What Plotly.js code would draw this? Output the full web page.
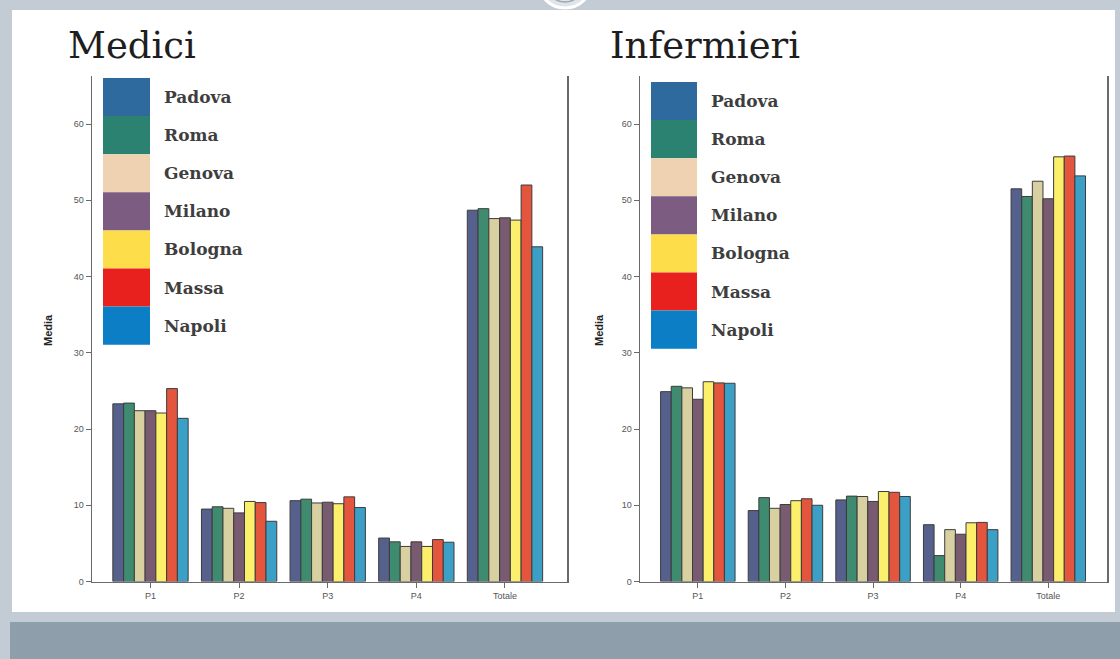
<!DOCTYPE html>
<html>
<head>
<meta charset="utf-8">
<script src="https://cdn.plot.ly/plotly-3.0.1.min.js"></script>
<style>html,body{margin:0;padding:0;background:#c3ccd4;}#chart{width:1120px;height:659px;}</style>
</head>
<body>
<div id="chart"></div>
<script>
// ---- data ----
const categories = ['P1', 'P2', 'P3', 'P4', 'Totale'];
const cities = ['Padova', 'Roma', 'Genova', 'Milano', 'Bologna', 'Massa', 'Napoli'];
const panelTitles = ['Medici', 'Infermieri'];
const yTickVals = [0, 10, 20, 30, 40, 50, 60];
const yAxisLabel = 'Media';

// Medici: values per city across P1, P2, P3, P4, Totale
const mediciPadova  = [23.3, 9.5, 10.6, 5.7, 48.7];
const mediciRoma    = [23.4, 9.8, 10.8, 5.2, 48.9];
const mediciGenova  = [22.4, 9.6, 10.3, 4.6, 47.6];
const mediciMilano  = [22.4, 9.0, 10.4, 5.2, 47.7];
const mediciBologna = [22.1, 10.5, 10.2, 4.6, 47.4];
const mediciMassa   = [25.3, 10.35, 11.1, 5.5, 52.0];
const mediciNapoli  = [21.4, 7.9, 9.7, 5.15, 43.9];

// Infermieri
const infPadova  = [24.9, 9.3, 10.7, 7.45, 51.5];
const infRoma    = [25.6, 11.0, 11.2, 3.4, 50.5];
const infGenova  = [25.4, 9.6, 11.15, 6.8, 52.5];
const infMilano  = [23.9, 10.1, 10.5, 6.2, 50.2];
const infBologna = [26.2, 10.6, 11.8, 7.7, 55.7];
const infMassa   = [26.05, 10.85, 11.7, 7.75, 55.8];
const infNapoli  = [26.0, 10.0, 11.15, 6.8, 53.2];

const mediciSeries = [mediciPadova, mediciRoma, mediciGenova, mediciMilano, mediciBologna, mediciMassa, mediciNapoli];
const infSeries = [infPadova, infRoma, infGenova, infMilano, infBologna, infMassa, infNapoli];

// ---- styles ----
const barColors = ['#56608c', '#3f8b70', '#d9d0a2', '#785a71', '#fcef6c', '#e4553d', '#3c9fc6'];
const legendColors = ['#2f6a9e', '#2c8270', '#eed2b2', '#7c5c80', '#fedd4a', '#e8211f', '#0b7ec5'];

const W = 1120, H = 659;
const px = x => x / W;
const py = y => 1 - y / H;

const traces = [];
[mediciSeries, infSeries].forEach((series, p) => {
  series.forEach((vals, i) => {
    traces.push({
      type: 'bar',
      x: categories,
      y: vals,
      name: cities[i],
      xaxis: p === 0 ? 'x' : 'x2',
      yaxis: p === 0 ? 'y' : 'y2',
      marker: {color: barColors[i], line: {color: '#3c3c3c', width: 1}},
      showlegend: false,
      hoverinfo: 'x+y+name'
    });
  });
});

const yDomain = [py(581.5), py(76)];
const axisCommon = {
  showgrid: false, zeroline: false, showline: true, linecolor: '#6a6a6a', linewidth: 1.5,
  ticks: 'outside', ticklen: 5, tickcolor: '#6a6a6a',
  tickfont: {family: 'Liberation Sans, Arial, sans-serif', size: 9, color: '#555'}
};

const shapes = [
  // white panel
  {type: 'rect', xref: 'paper', yref: 'paper', x0: px(12), x1: px(1115), y0: py(612), y1: py(10), fillcolor: '#ffffff', line: {width: 0}, layer: 'below'},
  // bottom band
  {type: 'rect', xref: 'paper', yref: 'paper', x0: px(10), x1: px(1120), y0: py(659), y1: py(622), fillcolor: '#8e9eab', line: {width: 0}, layer: 'below'},
  // logo circle at top
  {type: 'circle', xref: 'paper', yref: 'paper', x0: px(538), x1: px(592), y0: py(8), y1: py(-46), fillcolor: '#dfe4e8', line: {color: '#ffffff', width: 3}, layer: 'below'},
  {type: 'circle', xref: 'paper', yref: 'paper', x0: px(546), x1: px(584), y0: py(2), y1: py(-36), fillcolor: 'rgba(0,0,0,0)', line: {color: '#9aa6b0', width: 1.5}, layer: 'below'}
];
const annotations = [];

const legendX = [[103, 150, 162], [651, 697, 709]];
const legendTop = [78, 82];
const rowH = 38.1;
[0, 1].forEach(p => {
  cities.forEach((c, i) => {
    const t = legendTop[p] + i * rowH;
    shapes.push({type: 'rect', xref: 'paper', yref: 'paper',
      x0: px(legendX[p][0]), x1: px(legendX[p][1]), y0: py(t + rowH), y1: py(t),
      fillcolor: legendColors[i], line: {width: 0}});
    annotations.push({xref: 'paper', yref: 'paper', x: px(legendX[p][2]), y: py(t + rowH / 2),
      xanchor: 'left', yanchor: 'middle', showarrow: false, text: '<b>' + c + '</b>',
      font: {family: 'DejaVu Serif, serif', size: 17, color: '#3e3e3e'}});
  });
});

annotations.push({xref: 'paper', yref: 'paper', x: px(66), y: py(45), xanchor: 'left', yanchor: 'middle', showarrow: false,
  text: panelTitles[0], font: {family: 'DejaVu Serif, serif', size: 37, color: '#1e1e1e'}});
annotations.push({xref: 'paper', yref: 'paper', x: px(608), y: py(45), xanchor: 'left', yanchor: 'middle', showarrow: false,
  text: panelTitles[1], font: {family: 'DejaVu Serif, serif', size: 37, color: '#1e1e1e'}});
annotations.push({xref: 'paper', yref: 'paper', x: px(48), y: py(330), xanchor: 'center', yanchor: 'middle', showarrow: false,
  textangle: -90, text: '<b>' + yAxisLabel + '</b>', font: {family: 'Liberation Sans, Arial, sans-serif', size: 11, color: '#222'}});
annotations.push({xref: 'paper', yref: 'paper', x: px(599), y: py(330), xanchor: 'center', yanchor: 'middle', showarrow: false,
  textangle: -90, text: '<b>' + yAxisLabel + '</b>', font: {family: 'Liberation Sans, Arial, sans-serif', size: 11, color: '#222'}});

const layout = {
  width: W, height: H,
  margin: {l: 0, r: 0, t: 0, b: 0},
  paper_bgcolor: '#c3ccd4',
  plot_bgcolor: '#efefef',
  barmode: 'group', bargap: 0.15, bargroupgap: 0,
  showlegend: false,
  xaxis: Object.assign({}, axisCommon, {domain: [px(92), px(567)], anchor: 'y', range: [-0.66, 4.7], type: 'category'}),
  yaxis: Object.assign({}, axisCommon, {domain: yDomain, anchor: 'x', range: [0, 66.3], tickvals: yTickVals, mirror: true}),
  xaxis2: Object.assign({}, axisCommon, {domain: [px(640), px(1107)], anchor: 'y2', range: [-0.66, 4.67], type: 'category'}),
  yaxis2: Object.assign({}, axisCommon, {domain: yDomain, anchor: 'x2', range: [0, 66.3], tickvals: yTickVals, mirror: true}),
  shapes: shapes,
  annotations: annotations
};

Plotly.newPlot('chart', traces, layout, {displayModeBar: false, staticPlot: true});
</script>
</body>
</html>
